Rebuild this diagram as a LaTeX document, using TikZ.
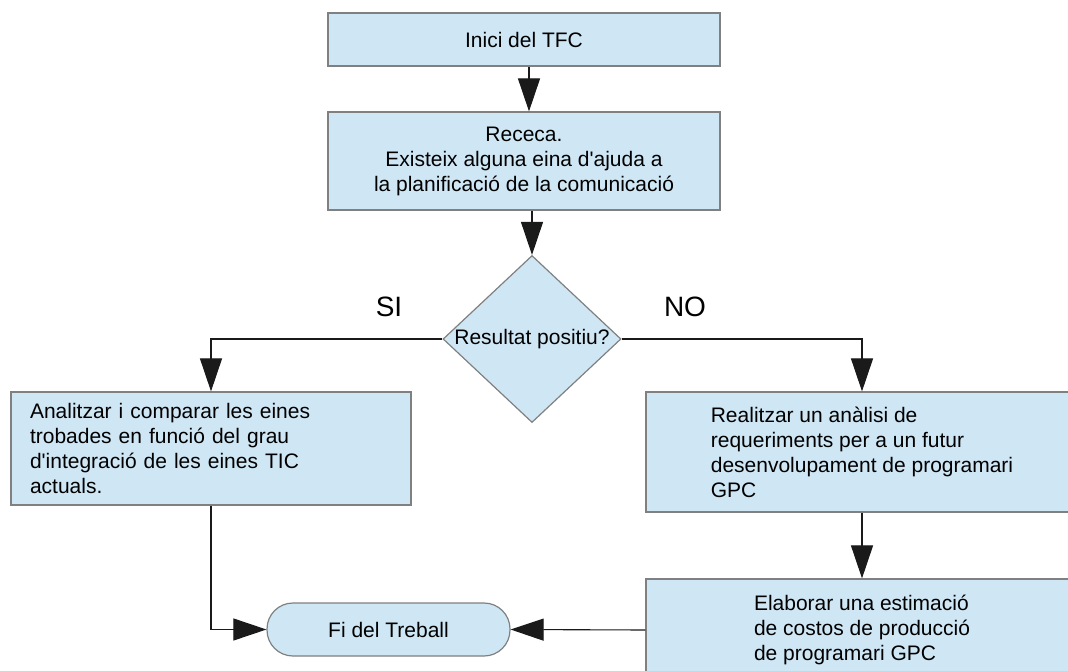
\documentclass[tikz,border=0pt]{standalone}
\usepackage{fontspec}
\setmainfont{Liberation Sans}[Ligatures=TeXOff]
\usetikzlibrary{arrows.meta,shapes.geometric}
\definecolor{boxfill}{HTML}{CFE7F5}
\definecolor{boxline}{HTML}{808080}
\definecolor{conn}{HTML}{1A1A1A}
\tikzset{
  base/.style={draw=boxline, fill=boxfill, line width=1.2pt, font=\fontsize{21}{25}\selectfont},
  procbox/.style={base, rectangle, inner sep=0pt},
  decision/.style={base, diamond, inner sep=0pt, minimum width=178pt, minimum height=167pt},
  terminal/.style={base, rectangle, rounded corners=26pt, minimum width=243pt, minimum height=53pt, inner sep=0pt},
  branchlabel/.style={font=\fontsize{28}{32}\selectfont, inner sep=0pt},
  flow/.style={draw=conn, line width=1.1pt, -{Triangle[length=33pt,width=22pt]}},
  plain/.style={draw=conn, line width=1.1pt}
}
\begin{document}
\begin{tikzpicture}[x=1pt,y=-1pt]
\useasboundingbox (0,0) rectangle (1068,671);
\clip (0,0) rectangle (1068,671);
\fill[white] (0,0) rectangle (1068,671);

\node[procbox, minimum width=392pt, minimum height=53pt] (start) at (524,39.5) {Inici del TFC};
\node[procbox, minimum width=392pt, minimum height=98pt, align=center] (research) at (524,161)
  {Receca.\\Existeix alguna eina d'ajuda a\\la planificació de la comunicació};
\node[decision, label={[font=\fontsize{21}{25}\selectfont, inner sep=0pt]center:Resultat positiu?}] (dec) at (532,339) {};
\node[branchlabel] (si) at (389,307) {SI};
\node[branchlabel] (no) at (685,307) {NO};

\node[procbox, minimum width=400pt, minimum height=113pt, text width=362pt, inner xsep=19pt, align=left] (left) at (211,448.5)
  {Analitzar i comparar les eines\\trobades en funció del grau\\d'integració de les eines TIC\\actuals.};
\node[procbox, minimum width=432pt, minimum height=120pt, align=left] (right) at (862,452)
  {Realitzar un anàlisi de\\requeriments per a un futur\\desenvolupament de programari\\GPC};
\node[procbox, minimum width=432pt, minimum height=102pt, align=left] (cost) at (862,630)
  {Elaborar una estimació\\de costos de producció\\de programari GPC};
\node[terminal] (fi) at (388.5,629.5) {Fi del Treball};

\draw[flow] ([xshift=5pt]start.south) -- ([xshift=5pt]research.north);
\draw[flow] (research.south -| dec.north) -- (dec.north);
\draw[flow] (dec.west) -| (left.north);
\draw[flow] (dec.east) -| (right.north);
\draw[flow] (right.south) -- (cost.north);
\draw[flow] (left.south) |- (fi.west);
\draw[flow] (cost.west) -- (fi.east);
\end{tikzpicture}
\end{document}
